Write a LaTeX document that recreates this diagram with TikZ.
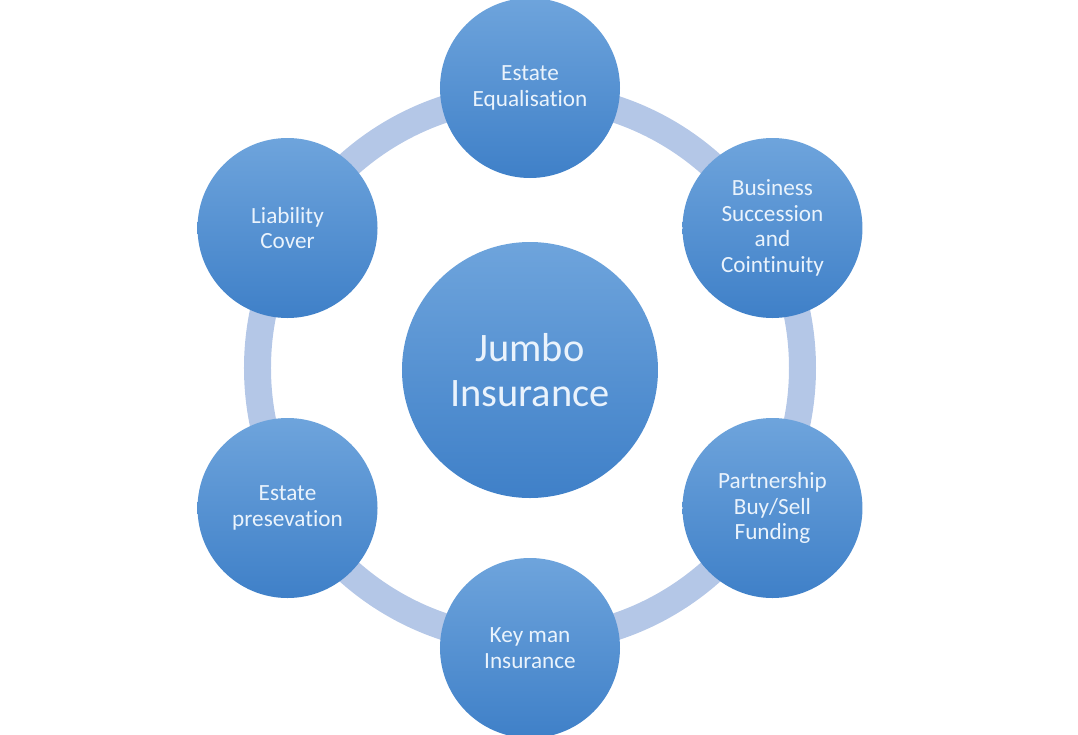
\documentclass[tikz,border=0pt]{standalone}
\usepackage{fontspec}
\setmainfont{Carlito}[Ligatures=NoCommon, Contextuals=NoAlternate]
\usepackage{xcolor}
\usepackage{tikz}
\usetikzlibrary{positioning}

\definecolor{ringblue}{HTML}{B4C7E7}
\definecolor{bubtop}{HTML}{6EA4DC}
\definecolor{bubbot}{HTML}{3F80C8}
\definecolor{bubtext}{HTML}{EAF3FC}

\tikzset{
	bubble/.style={shape=circle, top color=bubtop, bottom color=bubbot, draw=none, text=bubtext, align=center, inner sep=0pt},
	hubnode/.style={bubble, minimum size=5.12cm, font=\fontsize{23}{26}\selectfont},
	spoke/.style={bubble, minimum size=3.6cm, font=\fontsize{13.2}{14.5}\selectfont},
	ring/.style={draw=ringblue, line width=0.54cm}
}

\begin{document}
\begin{tikzpicture}
		% Frame:
		\useasboundingbox (-10.6, 7.36) rectangle (10.96, -7.32);
		% Ring behind the circles:
		\coordinate (hub-c) at (0, 0);
		\draw[ring] (hub-c) circle (5.45cm);
		% Centre:
		\node[hubnode] (hub) at (0, -0.04){Jumbo\\Insurance};
		% Circles on the ring:
		\node[spoke] (equal) at (90:5.6){Estate\\Equalisation};
		\node[spoke] (business) at (30:5.6){Business\\Succession\\and\\Cointinuity};
		\node[spoke] (partner) at (-30:5.6){Partnership\\Buy/Sell\\Funding};
		\node[spoke] (keyman) at (-90:5.6){Key man\\Insurance};
		\node[spoke] (preserve) at (-150:5.6){Estate\\presevation};
		\node[spoke] (liability) at (150:5.6){Liability\\Cover};
	\end{tikzpicture}
\end{document}
